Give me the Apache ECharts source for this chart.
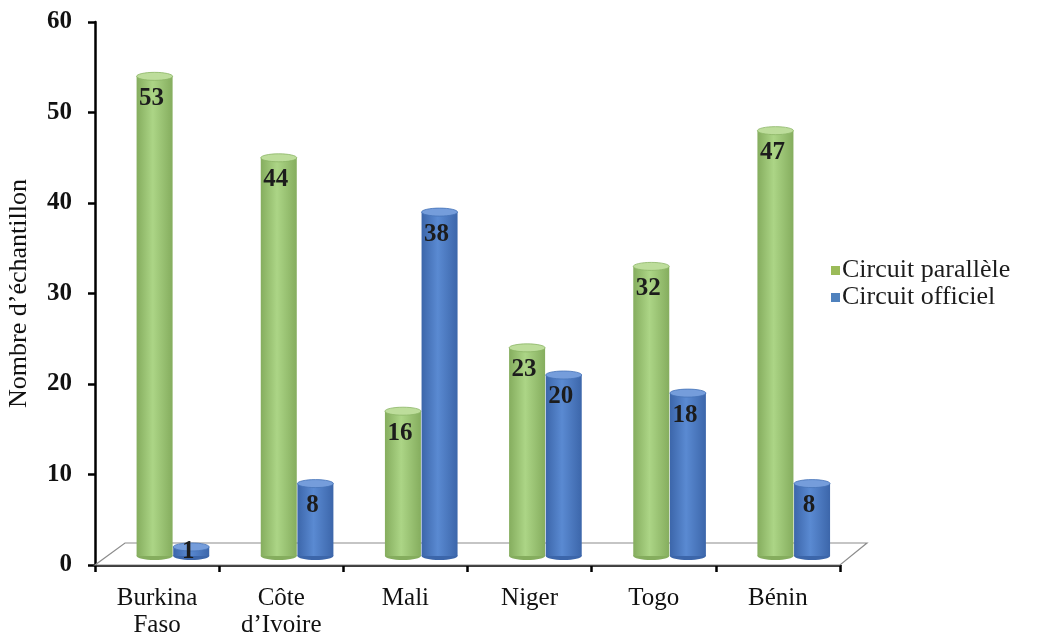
<!DOCTYPE html>
<html>
<head>
<meta charset="utf-8">
<script src="https://cdn.jsdelivr.net/npm/echarts@6/dist/echarts.min.js"></script>
<style>
  html, body { margin: 0; padding: 0; background: #ffffff; }
  #chart { width: 1042px; height: 639px; }
</style>
</head>
<body>
<div id="chart"></div>
<script>
// Pays
const categories = ['Burkina\nFaso', 'Côte\nd\u2019Ivoire', 'Mali', 'Niger', 'Togo', 'Bénin'];
// Nombre d'échantillons par circuit
const parallele = [53, 44, 16, 23, 32, 47];
const officiel = [1, 8, 38, 20, 18, 8];
const seriesNames = ['Circuit parallèle', 'Circuit officiel'];
const yTicks = [0, 10, 20, 30, 40, 50, 60];

const FONT = "'Liberation Serif', 'Times New Roman', serif";

const palettes = {
  green: { edge: '#85ad5e', mid: '#acd586', top: '#bddd9b', topEdge: '#8cb566', legend: '#9bbb59' },
  blue:  { edge: '#3c66aa', mid: '#5a8ad2', top: '#759ddb', topEdge: '#4673b8', legend: '#4f81bd' }
};

// depth shift of the 3D floor (bars stand slightly behind the front axis line)
const DEPTH_Y = -9;
const RY = 4;

function cylinderRenderer(pal, offsetFrac) {
  return function (params, api) {
    const idx = api.value(0);
    const v = api.value(1);
    const base = api.coord([idx, 0]);
    const top = api.coord([idx, v]);
    const band = api.size([1, 0])[0];
    const w = band * 0.29;
    const cx = base[0] + band * offsetFrac;
    const yb = base[1] + DEPTH_Y;
    const yt = top[1] + DEPTH_Y;
    const bodyFill = new echarts.graphic.LinearGradient(0, 0, 1, 0, [
      { offset: 0, color: pal.edge },
      { offset: 0.45, color: pal.mid },
      { offset: 1, color: pal.edge }
    ]);
    const labelY = Math.min(yt + 22, (yt + yb) / 2);
    return {
      type: 'group',
      children: [
        { type: 'ellipse', shape: { cx: cx, cy: yb, rx: w / 2, ry: RY }, style: { fill: pal.edge } },
        { type: 'rect', shape: { x: cx - w / 2, y: yt, width: w, height: yb - yt }, style: { fill: bodyFill } },
        { type: 'ellipse', shape: { cx: cx, cy: yt, rx: w / 2, ry: RY }, style: { fill: pal.top, stroke: pal.topEdge, lineWidth: 0.8 } },
        {
          type: 'text',
          style: {
            x: cx - 3, y: labelY, text: String(v),
            font: 'bold 25px ' + FONT, fill: '#1c1c1c',
            align: 'center', verticalAlign: 'middle'
          }
        }
      ]
    };
  };
}

// floor plane of the 3D chart
function floorRenderer(params, api) {
  const cs = params.coordSys;
  const x0 = cs.x, x1 = cs.x + cs.width, y0 = cs.y + cs.height;
  return {
    type: 'polygon',
    shape: { points: [[x0, y0], [x1, y0], [x1 + 27, y0 - 22], [x0 + 30, y0 - 22]] },
    style: { fill: '#ffffff', stroke: '#8c8c8c', lineWidth: 1.2 }
  };
}

const chart = echarts.init(document.getElementById('chart'), null, { renderer: 'canvas' });

chart.setOption({
  backgroundColor: '#ffffff',
  animation: false,
  grid: { left: 95, right: 202, top: 22, bottom: 74, containLabel: false, outerBoundsMode: 'none' },
  legend: {
    orient: 'vertical',
    left: 826, top: 252,
    itemWidth: 9, itemHeight: 9, itemGap: 0,
    textStyle: { fontFamily: FONT, fontSize: 26, lineHeight: 27, color: '#1c1c1c', padding: [0, 0, 0, -3] },
    data: [
      { name: seriesNames[0], icon: 'rect', itemStyle: { color: palettes.green.legend } },
      { name: seriesNames[1], icon: 'rect', itemStyle: { color: palettes.blue.legend } }
    ]
  },
  xAxis: {
    type: 'category',
    data: categories,
    boundaryGap: true,
    axisLine: { lineStyle: { color: '#000', width: 2.5 } },
    axisTick: { show: true, length: 7, lineStyle: { color: '#000', width: 2.5 } },
    axisLabel: { fontFamily: FONT, fontSize: 25, color: '#111', lineHeight: 27, margin: 20 }
  },
  yAxis: {
    type: 'value',
    min: yTicks[0], max: yTicks[yTicks.length - 1], interval: 10,
    name: 'Nombre d\u2019échantillon',
    nameLocation: 'middle', nameRotate: 90, nameGap: 63,
    nameTextStyle: { fontFamily: FONT, fontSize: 26, color: '#111' },
    axisLine: { show: true, lineStyle: { color: '#000', width: 2.5 } },
    axisTick: { show: true, length: 7, lineStyle: { color: '#000', width: 2.5 } },
    axisLabel: { fontFamily: FONT, fontSize: 25, fontWeight: 'bold', color: '#111', margin: 23 },
    splitLine: { show: false }
  },
  series: [
    {
      type: 'custom', name: '_floor', silent: true, z: 1,
      renderItem: floorRenderer, data: [[0]]
    },
    {
      type: 'custom', name: seriesNames[0], z: 3,
      itemStyle: { color: palettes.green.legend },
      renderItem: cylinderRenderer(palettes.green, -0.02),
      encode: { x: 0, y: 1 },
      data: parallele.map((v, i) => [i, v])
    },
    {
      type: 'custom', name: seriesNames[1], z: 4,
      itemStyle: { color: palettes.blue.legend },
      renderItem: cylinderRenderer(palettes.blue, 0.275),
      encode: { x: 0, y: 1 },
      data: officiel.map((v, i) => [i, v])
    }
  ]
});
</script>
</body>
</html>
